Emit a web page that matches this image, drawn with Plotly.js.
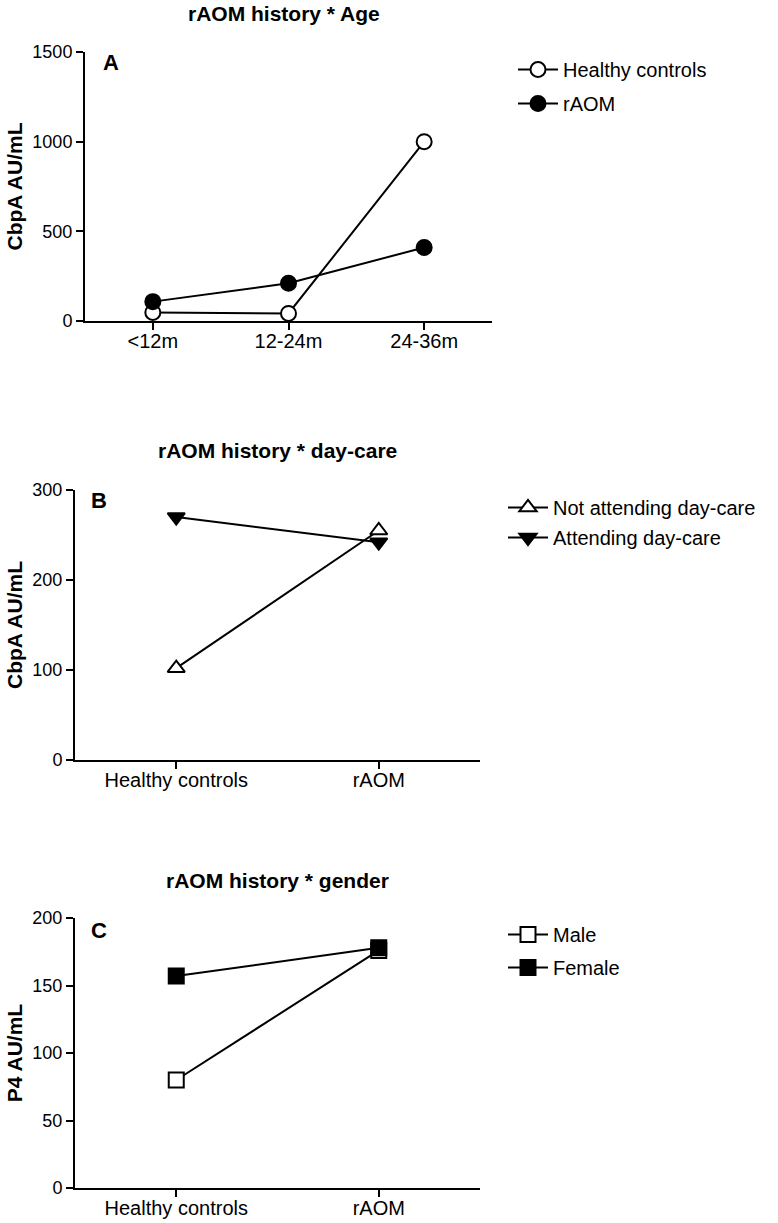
<!DOCTYPE html>
<html>
<head>
<meta charset="utf-8">
<script src="https://cdn.plot.ly/plotly-3.0.1.min.js"></script>
<style>html,body{margin:0;padding:0;background:#fff;}#chart{width:778px;height:1223px;}</style>
</head>
<body>
<div id="chart"></div>
<script>
// ---- Data ----
const ageCats = ['<12m', '12-24m', '24-36m'];
const healthyAge = [48, 42, 1000];
const raomAge = [108, 210, 410];

const groupCats = ['Healthy controls', 'rAOM'];
const notDaycare = [102, 255];
const daycare = [270, 242];

const maleP4 = [80, 176];
const femaleP4 = [157, 178];

const titles = ['rAOM history * Age', 'rAOM history * day-care', 'rAOM history * gender'];
const panelLetters = ['A', 'B', 'C'];
const yTitles = ['CbpA AU/mL', 'CbpA AU/mL', 'P4 AU/mL'];

// ---- Layout helpers ----
const W = 778, H = 1223;
const FONT = 'Liberation Sans, Arial, sans-serif';
const px = v => v / W;
const py = v => 1 - v / H;

const line = {color: '#000', width: 2};
function trace(x, y, name, symbol, fill, xa, ya, leg, grp) {
  return {
    x: x, y: y, name: name, type: 'scatter', mode: 'lines+markers',
    xaxis: xa, yaxis: ya, legend: leg, legendgroup: grp,
    line: line,
    marker: {symbol: symbol, size: 15, color: fill, line: {color: '#000', width: 2}},
    cliponaxis: false
  };
}

const data = [
  trace(ageCats, healthyAge, 'Healthy controls', 'circle', '#fff', 'x', 'y', 'legend', 'a1'),
  trace(ageCats, raomAge, 'rAOM', 'circle', '#000', 'x', 'y', 'legend', 'a2'),
  trace(groupCats, notDaycare, 'Not attending day-care', 'triangle-up', '#fff', 'x2', 'y2', 'legend2', 'b1'),
  trace(groupCats, daycare, 'Attending day-care', 'triangle-down', '#000', 'x2', 'y2', 'legend2', 'b2'),
  trace(groupCats, maleP4, 'Male', 'square', '#fff', 'x3', 'y3', 'legend3', 'c1'),
  trace(groupCats, femaleP4, 'Female', 'square', '#000', 'x3', 'y3', 'legend3', 'c2')
];

function xax(domain, n, anchor) {
  return {
    domain: domain, anchor: anchor, type: 'category',
    range: [-0.5, n - 0.5], showgrid: false, zeroline: false,
    showline: true, linecolor: '#000', linewidth: 2,
    ticks: 'outside', ticklen: 7, tickwidth: 2, tickcolor: '#000',
    ticklabelstandoff: -6,
    tickfont: {family: FONT, size: 20, color: '#000'}, fixedrange: true
  };
}
function yax(domain, range, dtick, anchor, title) {
  return {
    domain: domain, anchor: anchor, range: range, dtick: dtick, tick0: 0,
    showgrid: false, zeroline: false,
    showline: true, linecolor: '#000', linewidth: 2,
    ticks: 'outside', ticklen: 7, tickwidth: 2, tickcolor: '#000',
    tickfont: {family: FONT, size: 18, color: '#000'},
    title: {text: title, font: {family: FONT, size: 21, color: '#000', weight: 'bold'}, standoff: 4},
    fixedrange: true
  };
}
function legend(xPix, yPix, gap) {
  return {
    x: px(xPix), y: py(yPix), xanchor: 'left', yanchor: 'top',
    font: {family: FONT, size: 20, color: '#000'},
    bgcolor: 'rgba(0,0,0,0)', borderwidth: 0, itemwidth: 40,
    traceorder: 'grouped', tracegroupgap: gap, itemclick: false
  };
}
function ann(text, x, y, size) {
  return {text: text, x: px(x), y: py(y), xref: 'paper', yref: 'paper', xanchor: 'center', yanchor: 'middle',
          showarrow: false, font: {family: FONT, size: size, color: '#000'}};
}

const layout = {
  width: W, height: H,
  margin: {l: 0, r: 0, t: 0, b: 0},
  paper_bgcolor: '#fff', plot_bgcolor: '#fff',
  showlegend: true,
  xaxis: xax([px(85), px(492)], ageCats.length, 'y'),
  yaxis: yax([py(321), py(52)], [0, 1500], 500, 'x', yTitles[0]),
  xaxis2: xax([px(75), px(480)], groupCats.length, 'y2'),
  yaxis2: yax([py(760), py(490)], [0, 300], 100, 'x2', yTitles[1]),
  xaxis3: xax([px(75), px(480)], groupCats.length, 'y3'),
  yaxis3: yax([py(1188), py(918)], [0, 200], 50, 'x3', yTitles[2]),
  legend: legend(513, 50, 5),
  legend2: legend(503, 488, 1),
  legend3: legend(503, 915, 4),
  annotations: [
    ann('<b>' + titles[0] + '</b>', 284, 13, 21),
    ann('<b>' + titles[1] + '</b>', 277, 450, 21),
    ann('<b>' + titles[2] + '</b>', 277, 880, 21),
    ann('<b>' + panelLetters[0] + '</b>', 111, 62, 22),
    ann('<b>' + panelLetters[1] + '</b>', 99, 500, 22),
    ann('<b>' + panelLetters[2] + '</b>', 99, 930, 22)
  ]
};

Plotly.newPlot('chart', data, layout, {displayModeBar: false, staticPlot: true});
</script>
</body>
</html>
